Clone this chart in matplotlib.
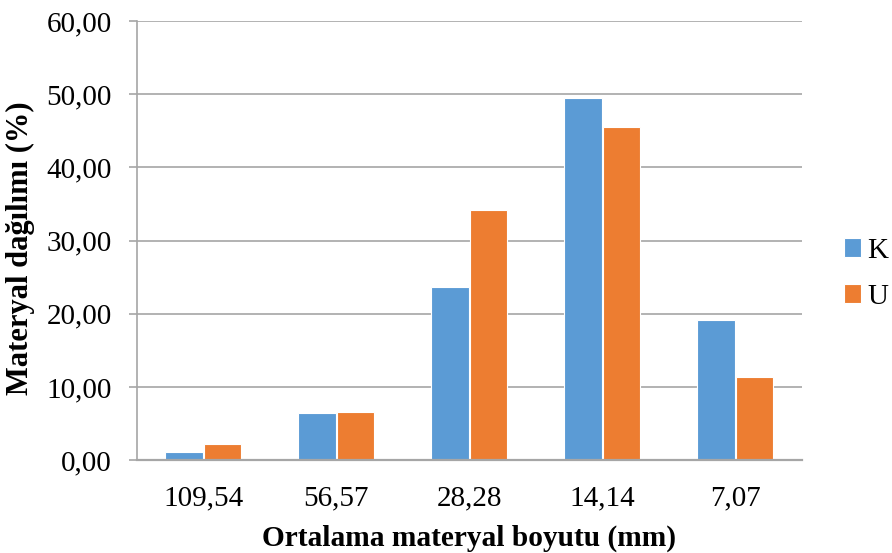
import matplotlib
matplotlib.use('agg')
import matplotlib.pyplot as plt
from matplotlib.ticker import FuncFormatter
import numpy as np

# chart data
categories = ['109,54', '56,57', '28,28', '14,14', '7,07']
k_values = [1.05, 6.5, 23.6, 49.5, 19.1]
u_values = [2.15, 6.6, 34.2, 45.5, 11.3]
series_names = ['K', 'U']

plt.rcParams['font.family'] = ['Liberation Serif', 'DejaVu Serif']

fig = plt.figure(figsize=(8.92, 5.53), dpi=100)
ax = fig.add_axes([0.1532, 0.168, 0.899 - 0.1532, 0.962 - 0.168])

x = np.arange(len(categories))
w = 0.28
ax.bar(x - w / 2 - 0.005, k_values, w, color='#5B9BD5', edgecolor='white', linewidth=0.8,
       label=series_names[0], zorder=3)
ax.bar(x + w / 2 + 0.005, u_values, w, color='#ED7D31', edgecolor='white', linewidth=0.8,
       label=series_names[1], zorder=3)

ax.set_xlim(-0.5, len(categories) - 0.5)
ax.set_ylim(0, 60)
ax.set_yticks(np.arange(0, 61, 10))
ax.yaxis.set_major_formatter(FuncFormatter(lambda v, p: f'{v:.2f}'.replace('.', ',')))
ax.set_xticks(x)
ax.set_xticklabels(categories)

ax.grid(axis='y', color='#a6a6a6', linewidth=1.2, zorder=0)
for s in ['top', 'right']:
    ax.spines[s].set_visible(False)
ax.spines['left'].set_color('#a6a6a6')
ax.spines['bottom'].set_color('#a6a6a6')
ax.spines['left'].set_linewidth(1.2)
ax.spines['bottom'].set_linewidth(1.6)
ax.spines['bottom'].set_zorder(4)

ax.tick_params(axis='y', direction='out', length=6, width=1.2, color='#a6a6a6',
               labelsize=21, pad=12)
ax.tick_params(axis='x', length=0, labelsize=21, pad=18)

ax.set_xlabel('Ortalama materyal boyutu (mm)', fontsize=21.2, fontweight='bold', labelpad=10)
ax.set_ylabel('Materyal dağılımı (%)', fontsize=22, fontweight='bold')
ax.yaxis.set_label_coords(-0.153, 0.483)

fig.legend(loc='center left', bbox_to_anchor=(0.946, 0.505), frameon=False,
           fontsize=21, handlelength=0.6, handleheight=0.6, handletextpad=0.2,
           labelspacing=0.7, borderpad=0, borderaxespad=0)

fig.savefig('out.png', dpi=100)
